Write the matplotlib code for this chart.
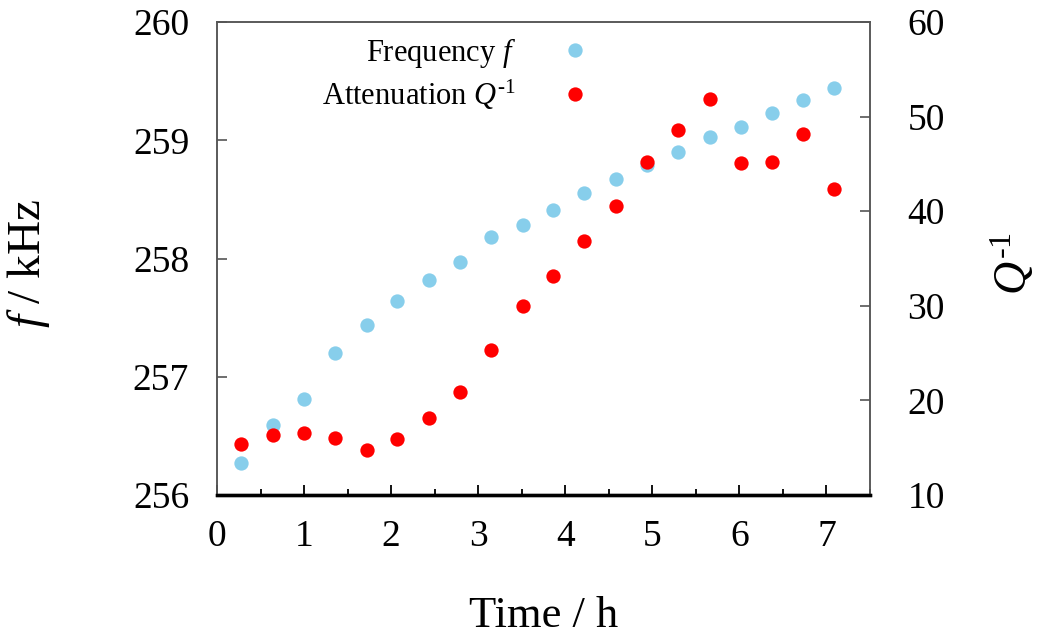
import matplotlib

matplotlib.use("Agg")
import matplotlib.pyplot as plt
from matplotlib.ticker import MultipleLocator

# ------------------------------ data -----------------------------------------

time_h = [0.28, 0.64, 1.00, 1.36, 1.72, 2.07, 2.43, 2.79, 3.15, 3.51,
          3.86, 4.22, 4.58, 4.94, 5.30, 5.66, 6.02, 6.37, 6.73, 7.09]

freq_khz = [256.27, 256.59, 256.81, 257.20, 257.44, 257.64, 257.82, 257.97,
            258.18, 258.28, 258.41, 258.55, 258.67, 258.79, 258.90, 259.03,
            259.11, 259.23, 259.34, 259.44]

atten_q = [15.4, 16.3, 16.6, 16.0, 14.8, 15.9, 18.1, 20.9, 25.3, 30.0,
           33.1, 36.9, 40.6, 45.2, 48.6, 51.9, 45.1, 45.2, 48.2, 42.3]

BLUE = "#87ceeb"
RED = "#ff0000"
SPINE = "#555555"

plt.rcParams["font.family"] = "Liberation Serif"
plt.rcParams["mathtext.fontset"] = "custom"
plt.rcParams["mathtext.rm"] = "Liberation Serif"
plt.rcParams["mathtext.it"] = "Liberation Serif:italic"

# short hyphen in the exponent, like the original figure
Q_LABEL = "$Q^{\u2010\\mathit{1}}$"

fig = plt.figure(figsize=(10.43, 6.37), dpi=100)
ax = fig.add_axes([217 / 1043, 1 - 495 / 637, (870 - 217) / 1043, (495 - 22) / 637])
ax2 = ax.twinx()

h1, = ax.plot(time_h, freq_khz, "o", ls="none", ms=10.3, color=BLUE, mec="none",
              label="Frequency $f$")
h2, = ax2.plot(time_h, atten_q, "o", ls="none", ms=10.3, color=RED, mec="none",
               label="Attenuation " + Q_LABEL)

ax.set_xlim(0, 7.5)
ax.set_ylim(256, 260)
ax2.set_ylim(10, 60)
ax.xaxis.set_major_locator(MultipleLocator(1))
ax.xaxis.set_minor_locator(MultipleLocator(0.5))
ax.yaxis.set_major_locator(MultipleLocator(1))
ax2.yaxis.set_major_locator(MultipleLocator(10))

for a in (ax, ax2):
    for side in ("left", "top", "right"):
        a.spines[side].set_color(SPINE)
        a.spines[side].set_linewidth(1.1)
    a.spines["bottom"].set_color("black")
    a.spines["bottom"].set_linewidth(2.4)

ax.tick_params(axis="x", which="major", direction="in", length=7, width=1.3,
               top=False, labelsize=27, pad=18)
ax.tick_params(axis="x", which="minor", direction="in", length=4, width=1.3,
               top=False)
ax.tick_params(axis="y", direction="in", length=7, width=1.2, color=SPINE,
               labelsize=27, pad=20)
ax2.tick_params(axis="y", direction="in", length=7, width=1.2, color=SPINE,
                labelsize=27, pad=27)

ax.set_xlabel("Time / h", fontsize=32, labelpad=30)
ax.set_ylabel("$f$ / kHz", fontsize=34)
ax.yaxis.set_label_coords(-0.252, 0.49)
ax2.set_ylabel(Q_LABEL, fontsize=33)
ax2.yaxis.set_label_coords(1.183, 0.49)

ax2.legend([h1, h2], [h1.get_label(), h2.get_label()], markerfirst=False,
           frameon=False, fontsize=22, loc="upper right",
           bbox_to_anchor=(0.571, 0.971), borderaxespad=0, borderpad=0,
           handlelength=1, handletextpad=1.4, labelspacing=0.25)

fig.savefig("out.png", dpi=100)
